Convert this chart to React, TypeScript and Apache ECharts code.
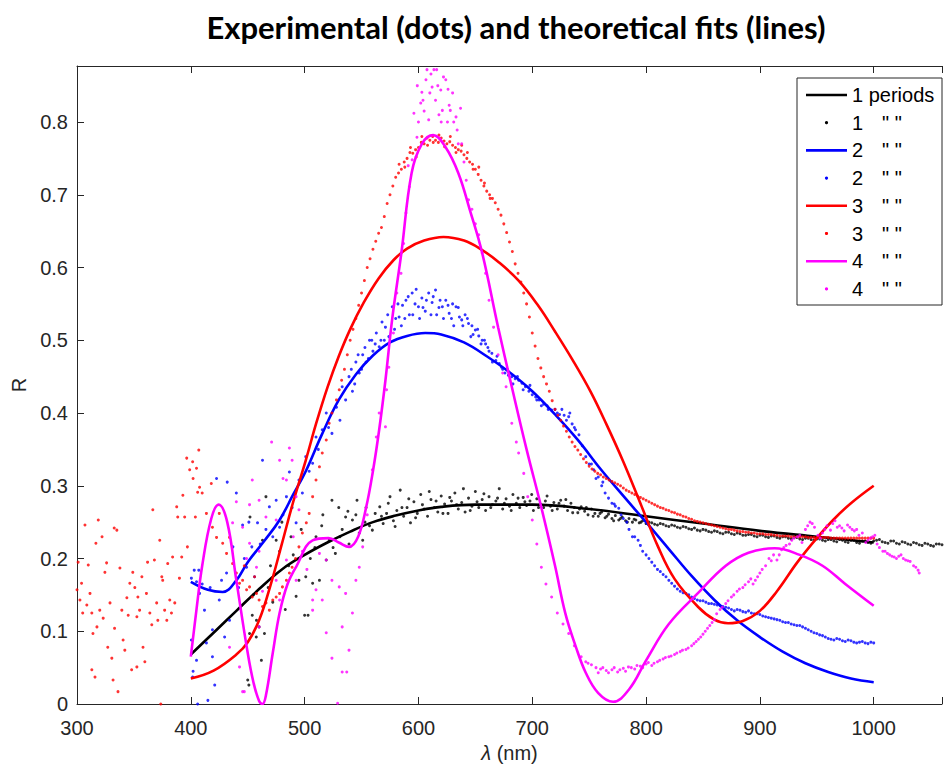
import React, { useEffect, useRef } from "react";
import * as echarts from "echarts";

// ---- Theoretical fits (lines) ----
const fit1: number[][] = [[400,0.068],[420,0.098],[440,0.128],[460,0.158],[480,0.185],[500,0.205],[520,0.222],[540,0.237],[560,0.25],[580,0.259],[600,0.266],[620,0.271],[650,0.274],[700,0.274],[750,0.268],[800,0.258],[850,0.248],[900,0.238],[950,0.23],[1000,0.222]];
const fit2: number[][] = [[400,0.168],[415,0.157],[428,0.154],[440,0.17],[450,0.195],[465,0.225],[478,0.253],[490,0.288],[501,0.32],[515,0.37],[530,0.418],[545,0.453],[560,0.479],[575,0.497],[590,0.506],[606,0.51],[620,0.508],[640,0.497],[660,0.478],[680,0.456],[700,0.43],[720,0.398],[740,0.363],[760,0.323],[780,0.286],[800,0.25],[820,0.213],[840,0.176],[860,0.143],[880,0.115],[900,0.092],[920,0.072],[940,0.056],[960,0.044],[980,0.035],[1000,0.03]];
const fit3: number[][] = [[400,0.035],[420,0.046],[440,0.068],[450,0.085],[460,0.115],[470,0.163],[480,0.22],[490,0.278],[501,0.335],[510,0.385],[520,0.435],[530,0.478],[540,0.515],[552,0.552],[565,0.585],[578,0.61],[590,0.626],[605,0.637],[622,0.642],[640,0.637],[655,0.625],[670,0.608],[688,0.582],[705,0.548],[720,0.512],[735,0.474],[751,0.43],[765,0.385],[780,0.333],[796,0.272],[810,0.218],[825,0.172],[846,0.133],[860,0.116],[872,0.111],[885,0.114],[900,0.128],[915,0.155],[933,0.195],[950,0.228],[965,0.254],[980,0.276],[1000,0.3]];
const fit4: number[][] = [[400,0.065],[405,0.13],[410,0.19],[418,0.255],[424.5,0.274],[432,0.25],[440,0.17],[450,0.07],[455,0.03],[460,0.004],[463,0.0],[466,0.012],[472,0.07],[478,0.125],[485,0.165],[493,0.19],[507,0.225],[521,0.228],[530,0.222],[539,0.216],[547,0.23],[554,0.27],[560,0.32],[565.5,0.377],[571,0.445],[577,0.53],[585,0.62],[594,0.73],[603,0.77],[613,0.782],[624,0.765],[635,0.73],[645,0.68],[656,0.62],[670,0.518],[682,0.436],[695,0.35],[708,0.27],[720,0.19],[729,0.125],[738,0.08],[747,0.043],[758,0.015],[771,0.003],[785,0.02],[800,0.06],[820,0.11],[846,0.153],[870,0.19],[890,0.208],[913,0.214],[935,0.205],[955,0.19],[975,0.165],[1000,0.135]];

// ---- Experimental data (dots) ----
const dots1: number[][] = [[450,0.033],[451,0.026],[451.6,0.097],[452,0.257],[454,0.122],[455,0.15],[457.5,0.092],[457.7,0.115],[460,0.106],[462,0.06],[463,0.225],[464.7,0.097],[466,0.285],[468,0.16],[470,0.19],[472,0.14],[475,0.225],[478,0.21],[480,0.25],[483,0.13],[486,0.19],[488,0.23],[490,0.205],[492.5,0.148],[495,0.17],[497,0.24],[500,0.122],[501,0.175],[503,0.122],[505,0.2],[507,0.166],[509,0.215],[510,0.23],[513,0.17],[515,0.245],[516,0.26],[519,0.198],[521.6,0.225],[524,0.28],[525,0.215],[527,0.207],[530,0.27],[531,0.23],[533,0.24],[536,0.257],[538,0.265],[539,0.22],[542,0.253],[545,0.26],[546,0.28],[548,0.235],[551,0.225],[553,0.25],[554,0.27],[557,0.245],[559.5,0.239],[562,0.262],[566,0.271],[569,0.248],[572,0.262],[575,0.285],[578,0.252],[581,0.266],[584,0.294],[587,0.258],[590,0.27],[593,0.249],[596,0.278],[599,0.262],[602,0.288],[605,0.268],[608,0.258],[611,0.281],[614,0.27],[617,0.264],[620,0.286],[623,0.275],[626,0.262],[629,0.279],[632,0.29],[635,0.268],[638,0.277],[641,0.264],[644,0.283],[647,0.272],[650,0.292],[653,0.27],[656,0.281],[659,0.266],[662,0.285],[665,0.274],[668,0.279],[671,0.296],[674,0.268],[677,0.282],[680,0.272],[683,0.288],[686,0.276],[689,0.27],[692,0.284],[695,0.273],[698,0.279],[701,0.266],[704,0.282],[707,0.275],[710,0.27],[713,0.286],[716,0.272],[719,0.277],[722,0.268],[725,0.28],[728,0.272],[731,0.266],[734,0.276],[737,0.27],[740,0.263],[743,0.271],[746,0.265],[749,0.26],[752,0.268],[755,0.262],[758,0.258],[761,0.264],[764,0.256],[767,0.261],[770,0.255],[773,0.259],[776,0.253],[779,0.257],[782,0.252],[785,0.255],[788,0.25],[791,0.253],[794,0.249],[797,0.252],[800,0.248],[805,0.249],[810,0.246],[815,0.247],[820,0.244],[825,0.245],[830,0.242],[835,0.243],[840,0.24],[845,0.239],[850,0.24],[855,0.237],[860,0.238],[865,0.235],[870,0.236],[875,0.234],[880,0.235],[885,0.232],[890,0.233],[895,0.231],[900,0.232],[905,0.23],[910,0.231],[915,0.229],[920,0.23],[925,0.228],[930,0.229],[935,0.227],[940,0.228],[945,0.226],[950,0.227],[955,0.225],[960,0.226],[965,0.224],[970,0.226],[975,0.223],[980,0.225],[985,0.222],[990,0.224],[995,0.222],[1000,0.224],[1005,0.226],[1010,0.222],[1015,0.224],[1020,0.221],[1025,0.223],[1030,0.22],[1035,0.222],[1040,0.219],[1045,0.221],[1050,0.218],[1055,0.22],[1060,0.219],
  [567.5,0.258],[573.5,0.276],[579.5,0.244],[585.5,0.27],[591.5,0.282],[597.5,0.256],[603.5,0.274],[609.5,0.292],[615.5,0.279],[621.5,0.262],[627.5,0.284],[633.5,0.274],[639.5,0.296],[645.5,0.266],[651.5,0.278],[657.5,0.289],[663.5,0.27],[669.5,0.283],[675.5,0.276],[681.5,0.266],[687.5,0.283],[693.5,0.278],[699.5,0.288],[705.5,0.27],[711.5,0.279],[717.5,0.266],[723.5,0.276],[729.5,0.281],[735.5,0.263],[741.5,0.268],[747.5,0.27],[753.5,0.258],[759.5,0.262],[765.5,0.258],[771.5,0.252],[777.5,0.255],[783.5,0.25],[789.5,0.254],[795.5,0.25],
  [802.5,0.25],[807.5,0.247],[812.5,0.248],[817.5,0.245],[822.5,0.246],[827.5,0.243],[832.5,0.244],[837.5,0.241],[842.5,0.242],[847.5,0.238],[852.5,0.239],[857.5,0.236],[862.5,0.237],[867.5,0.234],[872.5,0.236],[877.5,0.233],[882.5,0.234],[887.5,0.232],[892.5,0.233],[897.5,0.23],[902.5,0.232],[907.5,0.229],[912.5,0.231],[917.5,0.228],[922.5,0.23],[927.5,0.227],[932.5,0.229],[937.5,0.226],[942.5,0.228],[947.5,0.225],[952.5,0.227],[957.5,0.224],[962.5,0.226],[967.5,0.223],[972.5,0.225],[977.5,0.222],[982.5,0.225],[987.5,0.221],[992.5,0.224],[997.5,0.221],[1002.5,0.225],[1007.5,0.223],[1012.5,0.221],[1017.5,0.224],[1022.5,0.22],[1027.5,0.222],[1032.5,0.219],[1037.5,0.221],[1042.5,0.218],[1047.5,0.22],[1052.5,0.217],[1057.5,0.22]];
const dots2: number[][] = [[400.5,0.173],[400.5,0.088],[401.6,0.037],[402,0.045],[403,0.184],[405,0.168],[405,0.06],[406,0.0],[407,0.184],[407.7,0.152],[410,0.165],[412,0.129],[413.7,0.084],[415,0.005],[417,0.16],[419,0.102],[419,0.065],[421,0.026],[422.6,0.31],[425,0.143],[427,0.17],[429.7,0.092],[431.4,0.18],[432,0.305],[434,0.115],[437,0.216],[440,0.29],[442,0.16],[445.5,0.246],[447,0.2],[449,0.188],[451,0.25],[453.6,0.216],[456,0.175],[458.6,0.249],[461,0.22],[463,0.335],[466,0.24],[469,0.271],[472,0.23],[475,0.28],[478,0.243],[481,0.26],[484,0.285],[486.6,0.319],[489,0.27],[492.5,0.249],[495,0.308],[498,0.29],[501,0.34],[504,0.32],[507,0.331],[510,0.367],[512,0.35],[515.5,0.377],[519,0.4],[521,0.38],[524,0.372],[528,0.408],[531,0.39],[533,0.436],[536,0.418],[539,0.45],[542,0.43],[545,0.47],[548,0.455],[551,0.48],[554,0.47],[557,0.5],[560,0.485],[563,0.51],[565.5,0.491],[568,0.525],[570,0.5],[571,0.518],[574,0.505],[577,0.546],[580,0.53],[583,0.532],[585,0.52],[586,0.548],[589,0.555],[592,0.535],[594.5,0.565],[597,0.55],[600,0.546],[601,0.53],[603,0.558],[606,0.54],[609,0.565],[612,0.552],[615,0.569],[616,0.535],[618,0.545],[621,0.546],[624,0.555],[627,0.537],[630,0.55],[631,0.52],[633,0.546],[636,0.532],[638,0.528],[641,0.535],[644,0.523],[646,0.505],[647,0.52],[650,0.514],[653,0.506],[656,0.5],[659,0.495],[662,0.485],[664.5,0.482],[668,0.472],[671,0.468],[673,0.463],[676,0.455],[679,0.452],[682,0.45],[685,0.447],[688,0.445],[691,0.441],[694,0.436],[697,0.43],[700,0.425],[703,0.422],[706,0.418],[710,0.412],[713,0.41],[717,0.404],[720,0.405],[724,0.398],[728,0.397],[732,0.395],[735,0.385],[738,0.377],[741,0.37],[744,0.355],[747,0.34],[750,0.33],[754,0.322],[758,0.312],[761,0.3],[764,0.29],[767,0.283],[770,0.276],[773,0.272],[776,0.269],[780,0.255],[785,0.24],[790,0.23],[795,0.218],[800,0.205],[805,0.195],[810,0.185],[815,0.178],[820,0.17],[825,0.162],[830,0.155],[835,0.152],[840,0.147],[845,0.143],[850,0.142],[855,0.138],[860,0.137],[865,0.135],[870,0.133],[875,0.13],[880,0.13],[885,0.127],[890,0.128],[895,0.124],[900,0.123],[905,0.12],[910,0.118],[915,0.116],[920,0.113],[925,0.112],[930,0.109],[935,0.108],[940,0.104],[945,0.1],[950,0.097],[955,0.094],[960,0.09],[965,0.088],[970,0.089],[975,0.086],[980,0.087],[985,0.084],[990,0.086],[995,0.083],[1000,0.084],
  [541,0.46],[544,0.44],[547,0.48],[550,0.46],[553,0.49],[556,0.475],[559,0.5],[562,0.495],[567,0.5],[573,0.535],[579,0.515],[582,0.55],[588,0.53],[591,0.56],[595,0.535],[598,0.57],[604,0.545],[607,0.555],[611,0.535],[613,0.56],[619,0.555],[622,0.53],[626,0.548],[629,0.53],[635,0.545],[639,0.52],[643,0.53],[648,0.508],[652,0.515],[655,0.495],[658,0.5],[661,0.49],[665,0.47],[669,0.478],[674,0.46],[678,0.46],[683,0.44],[687,0.45],[692,0.432],[698,0.438],[704,0.418],[708,0.41],[714,0.405],[722,0.4],[726,0.405],[730,0.39],[733,0.4],[737,0.38],[752,0.33],[756,0.31],[762,0.305],[772,0.275],[778,0.26],[783,0.25],[788,0.23],[793,0.225],[797,0.21],
  [802.5,0.2],[807.5,0.19],[812.5,0.182],[817.5,0.175],[822.5,0.166],[827.5,0.158],[832.5,0.153],[837.5,0.15],[842.5,0.145],[847.5,0.142],[852.5,0.14],[857.5,0.138],[862.5,0.136],[867.5,0.134],[872.5,0.132],[877.5,0.128],[882.5,0.129],[887.5,0.126],[892.5,0.125],[897.5,0.124],[902.5,0.121],[907.5,0.119],[912.5,0.117],[917.5,0.115],[922.5,0.112],[927.5,0.11],[932.5,0.108],[937.5,0.106],[942.5,0.102],[947.5,0.098],[952.5,0.095],[957.5,0.092],[962.5,0.089],[967.5,0.09],[972.5,0.087],[977.5,0.088],[982.5,0.085],[987.5,0.085],[992.5,0.084],[997.5,0.085]];
const dots3: number[][] = [[300,0.157],[301,0.195],[302.6,0.143],[304,0.166],[305,0.125],[307,0.246],[308.6,0.136],[309.9,0.191],[311.4,0.152],[313,0.125],[313,0.047],[314,0.097],[315.8,0.037],[316.6,0.221],[317.5,0.106],[318.7,0.253],[320,0.129],[322,0.23],[323,0.118],[324.5,0.181],[326,0.194],[327,0.078],[329,0.139],[330.6,0.063],[331.7,0.033],[332.7,0.242],[333,0.104],[335,0.239],[336,0.017],[337.7,0.187],[339.4,0.129],[340.5,0.088],[342,0.074],[343.8,0.146],[345,0.122],[346.4,0.166],[348,0.047],[349,0.181],[350.8,0.16],[352.6,0.12],[352.6,0.051],[353.5,0.147],[355,0.129],[357,0.175],[358,0.078],[359.6,0.058],[361,0.152],[362,0.195],[364,0.125],[365.7,0.109],[366.6,0.267],[368,0.198],[370,0.139],[371,0.115],[372.7,0.225],[373.6,0.0],[374.5,0.175],[375.3,0.17],[377,0.129],[378.9,0.115],[379.7,0.193],[381.5,0.143],[383,0.125],[384,0.202],[385.9,0.139],[387.6,0.271],[388.5,0.257],[390,0.173],[392,0.202],[393,0.287],[394.6,0.257],[396.4,0.338],[397,0.216],[399,0.322],[401.6,0.333],[402,0.31],[404,0.257],[405,0.324],[406,0.291],[407,0.349],[407.7,0.298],[410,0.29],[413.7,0.262],[418,0.303],[419,0.243],[422.6,0.229],[425,0.262],[428,0.221],[431.4,0.207],[434,0.229],[436.7,0.193],[440,0.18],[442.8,0.166],[445.5,0.17],[447,0.19],[449,0.157],[451.6,0.161],[454,0.147],[456,0.175],[457.7,0.152],[460,0.143],[463,0.134],[466,0.139],[469,0.129],[472,0.143],[475,0.147],[478,0.152],[480.5,0.161],[484,0.17],[486.6,0.18],[489,0.188],[492,0.2],[495,0.216],[498,0.235],[501.5,0.249],[504,0.262],[507,0.285],[510,0.308],[513,0.326],[515.5,0.345],[519,0.363],[521.6,0.386],[524,0.4],[528,0.418],[530.4,0.432],[535,0.46],[540,0.5],[545,0.53],[550,0.565],[555,0.6],[560,0.625],[565,0.647],[567.5,0.655],[570,0.67],[572.5,0.688],[575,0.7],[577.5,0.712],[580,0.724],[582.5,0.73],[585,0.735],[587.5,0.745],[590,0.75],[592.5,0.758],[595,0.757],[597.5,0.762],[600,0.765],[602.5,0.772],[605,0.77],[607.5,0.778],[610,0.775],[612.5,0.78],[615,0.775],[617.5,0.772],[620,0.778],[622.5,0.774],[625,0.77],[627.5,0.773],[630,0.768],[632.5,0.765],[635,0.762],[637.5,0.76],[640,0.755],[642.5,0.75],[645,0.745],[647.5,0.742],[650,0.735],[652.5,0.728],[655,0.72],[657.5,0.712],[660,0.705],[662.5,0.7],[665,0.695],[667.5,0.689],[670,0.68],[672.5,0.672],[675,0.66],[677.5,0.648],[680,0.635],[682.5,0.622],[685,0.605],[687.5,0.592],[690,0.58],[692.5,0.565],[695,0.55],[697.5,0.532],[700,0.51],[702.5,0.492],[705,0.475],[707.5,0.462],[710,0.45],[712.5,0.44],[715,0.43],[717.5,0.417],[720,0.405],[722.5,0.397],[725,0.39],[727.5,0.382],[730,0.375],[732.5,0.367],[735,0.36],[737.5,0.354],[740,0.349],[745,0.337],[750,0.327],[755,0.32],[760,0.315],[765,0.31],[770,0.306],[775,0.302],[780,0.297],[785,0.292],[790,0.288],[795,0.284],[800,0.28],[805,0.276],[810,0.272],[815,0.269],[820,0.266],[825,0.263],[830,0.26],[835,0.257],[840,0.254],[845,0.251],[850,0.249],[855,0.247],[860,0.245],[865,0.243],[870,0.241],[875,0.24],[880,0.238],[885,0.237],[890,0.236],[895,0.235],[900,0.234],[905,0.233],[910,0.233],[915,0.232],[920,0.231],[925,0.231],[930,0.23],[935,0.23],[940,0.23],[945,0.229],[950,0.229],[955,0.229],[960,0.229],[965,0.228],[970,0.228],[975,0.228],[980,0.228],[985,0.228],[990,0.228],[995,0.228],[1000,0.228],
  [532.5,0.445],[537.5,0.48],[542.5,0.515],[547.5,0.548],[552.5,0.582],[557.5,0.612],[562.5,0.636],[583,0.742],[588,0.738],[593,0.765],[598,0.752],[603,0.78],[608,0.768],[613,0.772],[618,0.782],[623,0.766],[628,0.78],[633,0.758],[638,0.768],[643,0.758],[648,0.735],[653,0.738],[658,0.716],[663,0.695],
  [742.5,0.343],[747.5,0.332],[752.5,0.323],[757.5,0.317],[762.5,0.312],[767.5,0.308],[772.5,0.304],[777.5,0.3],[782.5,0.294],[787.5,0.29],[792.5,0.286],[797.5,0.282],[802.5,0.278],[807.5,0.274],[812.5,0.27],[817.5,0.267],[822.5,0.264],[827.5,0.261],[832.5,0.258],[837.5,0.255],[842.5,0.252],[847.5,0.25],[852.5,0.248],[857.5,0.246],[862.5,0.244],[867.5,0.242],[872.5,0.24],[877.5,0.239],[882.5,0.237],[887.5,0.236],[892.5,0.235],[897.5,0.234],[902.5,0.234],[907.5,0.233],[912.5,0.232],[917.5,0.231],[922.5,0.231],[927.5,0.23],[932.5,0.23],[937.5,0.23],[942.5,0.229],[947.5,0.229],[952.5,0.229],[957.5,0.229],[962.5,0.228],[967.5,0.228],[972.5,0.228],[977.5,0.228],[982.5,0.228],[987.5,0.228],[992.5,0.228],[997.5,0.228]];
const dots4: number[][] = [[434,0.078],[436.7,0.249],[440,0.278],[442.8,0.051],[445.5,0.243],[445.5,0.017],[447,0.017],[449,0.2],[451.6,0.274],[451.6,0.221],[454,0.308],[457.7,0.188],[460,0.28],[460,0.21],[460,0.106],[463,0.155],[466,0.257],[471,0.36],[475,0.253],[475,0.17],[478,0.335],[478,0.143],[481,0.31],[484,0.308],[484,0.198],[486.6,0.352],[489,0.335],[490,0.23],[492.5,0.285],[492.5,0.17],[495,0.267],[498,0.21],[502,0.185],[507,0.143],[507,0.129],[510,0.157],[513,0.207],[515.5,0.143],[519,0.198],[519,0.098],[524,0.17],[524,0.063],[529,0.001],[530.4,0.161],[533,0.106],[533,0.044],[536,0.152],[537,0.044],[539,0.074],[542,0.125],[545,0.17],[548,0.188],[551,0.216],[555,0.26],[559.5,0.322],[563,0.367],[565.5,0.4],[571,0.381],[572,0.432],[574,0.463],[578,0.51],[581,0.565],[584.7,0.592],[587,0.633],[589,0.675],[592,0.711],[594.5,0.748],[596,0.812],[598.7,0.779],[600,0.8],[602,0.826],[603,0.841],[605,0.815],[606.6,0.858],[607.5,0.872],[609,0.803],[610,0.84],[612,0.848],[613.6,0.872],[615,0.83],[616,0.872],[618,0.81],[619.6,0.844],[621,0.816],[622,0.862],[624,0.858],[625.5,0.8],[627,0.823],[628,0.816],[630,0.84],[633,0.807],[634,0.789],[637,0.819],[638,0.77],[640,0.745],[642,0.72],[644,0.693],[647,0.68],[650,0.66],[653,0.645],[656,0.62],[659,0.592],[662,0.555],[666,0.518],[670,0.48],[674,0.455],[677,0.436],[682,0.386],[686,0.36],[688,0.345],[692.5,0.317],[696,0.285],[700,0.253],[704,0.22],[708,0.188],[712,0.165],[717,0.147],[722,0.125],[727,0.11],[732,0.097],[737,0.08],[743,0.065],[747,0.058],[752,0.054],[756,0.05],[760,0.048],[765,0.046],[770,0.047],[775,0.044],[780,0.049],[784.5,0.051],[790,0.048],[795,0.052],[800,0.055],[805,0.053],[810,0.058],[815,0.062],[820,0.065],[825,0.068],[830,0.072],[835,0.075],[840,0.08],[844,0.086],[848,0.092],[852,0.1],[856,0.108],[860,0.116],[865,0.13],[870,0.138],[875,0.147],[880,0.155],[885,0.16],[890,0.168],[894,0.165],[898,0.175],[902,0.185],[905,0.19],[908,0.2],[912,0.205],[915,0.198],[919,0.212],[923,0.218],[926,0.22],[930,0.228],[933,0.23],[937,0.222],[940,0.24],[944,0.25],[948,0.243],[951,0.232],[955,0.235],[959,0.245],[962,0.239],[966,0.252],[970,0.245],[974,0.238],[977,0.246],[981,0.24],[985,0.24],[990,0.235],[993,0.222],[997,0.228],[1001,0.232],[1005,0.215],[1008,0.21],[1012,0.207],[1016,0.203],[1020,0.2],[1024,0.205],[1028,0.198],[1032,0.196],[1035,0.19],[1039,0.184],[1040,0.18],
  [591,0.74],[599,0.85],[604,0.83],[611,0.866],[617,0.85],[620,0.8],[626,0.845],[631,0.8],[635,0.77],[749,0.056],[758,0.043],[762,0.05],[767,0.043],[772,0.05],[777,0.047],[782,0.045],[787,0.05],[792,0.053],[797,0.05],[802,0.057],[807,0.056],[812,0.06],[817,0.064],[822,0.066],[827,0.07],[832,0.074],[837,0.077],[842,0.083],[846,0.089],[850,0.096],[854,0.104],[858,0.112],[862,0.124],[867,0.133],[872,0.142],[877,0.15],[882,0.158],[887,0.164],[892,0.172],[896,0.17],[900,0.18],[910,0.197],[917,0.205],[921,0.215],[928,0.225],[935,0.232],[942,0.245],[946,0.248],[953,0.228],[957,0.24],[964,0.248],[968,0.243],[972,0.242],[979,0.243],[983,0.238],[987,0.232],[995,0.225],[999,0.23],[1003,0.22],[1010,0.21],[1014,0.205],[1018,0.202],[1022,0.203],[1026,0.2],[1030,0.197],[1037,0.188]];

const seriesNames = ["1 periods", "1", "2", "2", "3", "3", "4", "4"];
const colors = ["#000000", "#0000ff", "#ff0000", "#ff00ff"];
const yTickLabels = ["0", "0.1", "0.2", "0.3", "0.4", "0.5", "0.6", "0.7", "0.8"];
const xTickLabels = ["300", "400", "500", "600", "700", "800", "900", "1000"];

const FONT = "'Liberation Sans', Arial, sans-serif";
const AX = "#262626";

export default function App() {
  const ref = useRef<HTMLDivElement>(null);
  useEffect(() => {
    if (!ref.current) return;
    const chart = echarts.init(ref.current, undefined, { renderer: "svg" });
    const fits = [fit1, fit2, fit3, fit4];
    const dots = [dots1, dots2, dots3, dots4];
    const series: any[] = [];
    for (let i = 0; i < 4; i++) {
      series.push({
        type: "line",
        name: "fit" + (i + 1),
        data: fits[i],
        smooth: 0.4,
        showSymbol: false,
        symbol: "none",
        lineStyle: { color: colors[i], width: 2.6 },
        z: 2 + i * 2,
      });
      series.push({
        type: "scatter",
        name: "dots" + (i + 1),
        data: dots[i],
        symbol: "circle",
        symbolSize: 3,
        itemStyle: { color: colors[i] },
        z: 3 + i * 2,
      });
    }

    // legend drawn as graphic
    const lgX = 797, lgY = 78, rowH = 27.7, firstRow = 95;
    const lg: any[] = [
      { type: "rect", shape: { x: lgX, y: lgY, width: 145, height: 227 }, style: { fill: "#fff", stroke: AX, lineWidth: 1 }, z: 100 },
    ];
    for (let r = 0; r < 8; r++) {
      const cy = firstRow + r * rowH;
      const c = colors[Math.floor(r / 2)];
      if (r % 2 === 0) {
        lg.push({ type: "line", shape: { x1: 806, y1: cy, x2: 847, y2: cy }, style: { stroke: c, lineWidth: 2.6 }, z: 101 });
      } else {
        lg.push({ type: "circle", shape: { cx: 826.5, cy, r: 1.6 }, style: { fill: c }, z: 101 });
      }
      lg.push({ type: "text", x: 852, y: cy, style: { text: seriesNames[r], font: `20px ${FONT}`, fill: "#000", verticalAlign: "middle" }, z: 101 });
      if (r > 0) {
        lg.push({ type: "text", x: 882, y: cy, style: { text: '" "', font: `20px ${FONT}`, fill: "#000", verticalAlign: "middle" }, z: 101 });
      }
    }

    const xFmt = (v: number) => (xTickLabels.indexOf(String(Math.round(v))) >= 0 && Math.abs(v - Math.round(v)) < 1e-6 ? String(Math.round(v)) : "");
    const yFmt = (v: number) => {
      const k = Math.round(v * 10);
      return Math.abs(v * 10 - k) < 1e-6 && k >= 0 && k < yTickLabels.length ? yTickLabels[k] : "";
    };

    chart.setOption({
      animation: false,
      backgroundColor: "#fff",
      title: {
        text: "Experimental (dots) and theoretical fits (lines)",
        left: 511,
        top: 6,
        textAlign: "center",
        textStyle: { fontFamily: "Lato, 'Open Sans', sans-serif", fontWeight: "bold", fontSize: 31, color: "#000" },
      },
      grid: { left: 77, top: 66, right: 0, bottom: 64, containLabel: false },
      xAxis: [
        {
          type: "value",
          min: 300,
          max: 1060,
          interval: 100,
          name: "{i|λ} (nm)",
          nameLocation: "middle",
          nameGap: 38,
          nameTextStyle: { fontFamily: FONT, fontSize: 20, color: AX, rich: { i: { fontStyle: "italic", fontFamily: FONT, fontSize: 20, color: AX } } },
          axisLine: { show: true, lineStyle: { color: AX, width: 1 } },
          axisTick: { show: true, inside: true, length: 7, lineStyle: { color: AX } },
          axisLabel: { formatter: xFmt, fontFamily: FONT, fontSize: 20, color: AX, margin: 14 },
          splitLine: { show: false },
        },
        {
          type: "value",
          position: "top",
          min: 300,
          max: 1060,
          interval: 100,
          axisLine: { show: true, lineStyle: { color: AX, width: 1 } },
          axisTick: { show: true, inside: true, length: 7, lineStyle: { color: AX } },
          axisLabel: { show: false },
          splitLine: { show: false },
        },
      ],
      yAxis: [
        {
          type: "value",
          min: 0,
          max: 0.877,
          interval: 0.1,
          name: "R",
          nameLocation: "middle",
          nameGap: 31,
          nameRotate: 90,
          nameTextStyle: { fontFamily: FONT, fontSize: 20, color: AX },
          axisLine: { show: true, lineStyle: { color: AX, width: 1 } },
          axisTick: { show: true, inside: true, length: 7, lineStyle: { color: AX } },
          axisLabel: { formatter: yFmt, fontFamily: FONT, fontSize: 20, color: AX, margin: 9 },
          splitLine: { show: false },
        },
      ],
      series,
      graphic: lg,
    });
    return () => chart.dispose();
  }, []);
  return <div ref={ref} style={{ position: "fixed", left: 0, top: 0, width: 945, height: 768 }} />;
}
